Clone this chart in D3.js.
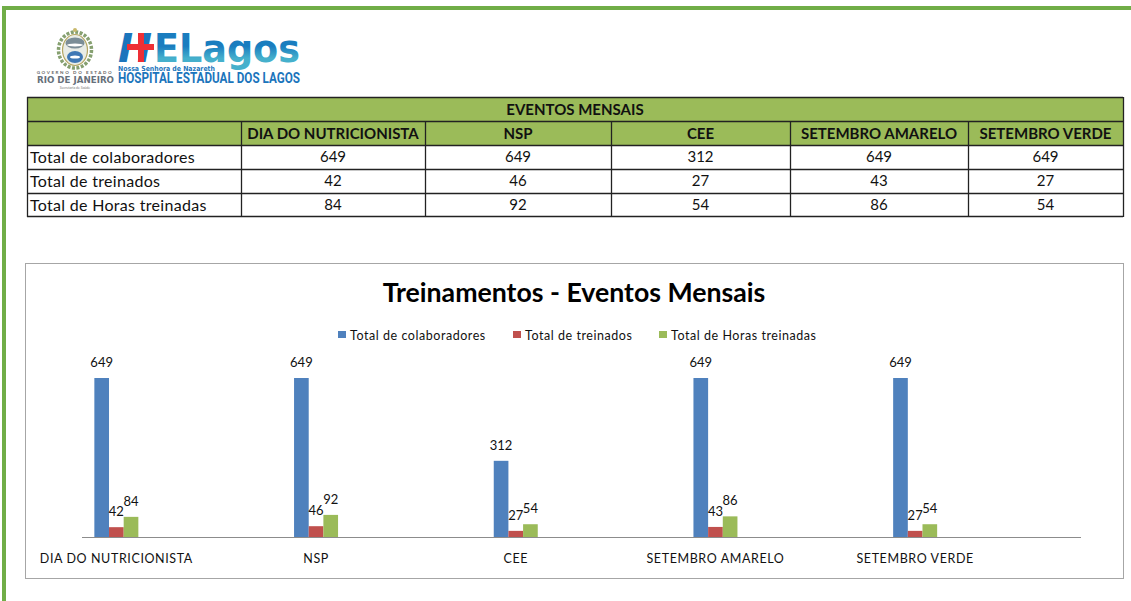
<!DOCTYPE html>
<html>
<head>
<meta charset="utf-8">
<script src="https://cdn.jsdelivr.net/npm/d3@7"></script>
<style>
  html, body { margin: 0; padding: 0; background: #fff; overflow: hidden; }
  text { font-family: Lato, "Open Sans", sans-serif; fill: #111; }
</style>
</head>
<body>
<div id="chart"></div>
<script>
/* global d3 */

// Data
const categories = ['DIA DO NUTRICIONISTA', 'NSP', 'CEE', 'SETEMBRO AMARELO', 'SETEMBRO VERDE']
const seriesNames = ['Total de colaboradores', 'Total de treinados', 'Total de Horas treinadas']
const colaboradores = [649, 649, 312, 649, 649]
const treinados = [42, 46, 27, 43, 27]
const horas = [84, 92, 54, 86, 54]
const seriesValues = [colaboradores, treinados, horas]
const seriesColors = ['#4f81bd', '#c0504d', '#9bbb59']

const width = 1131,
  height = 601

let svg = d3.select('#chart')
  .append('svg')
  .attr('width', width)
  .attr('height', height)
  .style('display', 'block')

// Gradient for the logo lettering
const grad = svg.append('defs').append('linearGradient')
  .attr('id', 'logoFill').attr('x1', 0).attr('x2', 0).attr('y1', 0).attr('y2', 1)
grad.append('stop').attr('offset', '45%').attr('stop-color', '#1a7dbf')
grad.append('stop').attr('offset', '72%').attr('stop-color', '#45b0cc')

// Page border, green
svg.append('rect').attr('x', 2).attr('y', 6).attr('width', width - 2).attr('height', 4).attr('fill', '#70ad47')
svg.append('rect').attr('x', 2).attr('y', 6).attr('width', 4).attr('height', height - 6).attr('fill', '#70ad47')

// Logo
const logo = svg.append('g')
const crest = logo.append('g').attr('transform', 'translate(75, 50)')
crest.append('ellipse').attr('rx', 16.5).attr('ry', 18).attr('fill', 'none')
  .attr('stroke', '#86a070').attr('stroke-width', 3.5).attr('stroke-dasharray', '3 1.5')
crest.append('ellipse').attr('rx', 12.5).attr('ry', 15.5).attr('fill', '#e9ece6').attr('stroke', '#b5a662').attr('stroke-width', 1.2)
crest.append('ellipse').attr('cy', -7).attr('rx', 9.5).attr('ry', 5.5).attr('fill', '#7b8d97')
crest.append('ellipse').attr('cy', -5).attr('rx', 8).attr('ry', 1.5).attr('fill', '#fff')
crest.append('ellipse').attr('cy', 7).attr('rx', 8).attr('ry', 6).attr('fill', '#3f78b5')
crest.append('ellipse').attr('cy', 7).attr('rx', 5).attr('ry', 1.6).attr('fill', '#fff')
crest.append('circle').attr('cy', -20).attr('r', 2).attr('fill', '#c9b96c')
logo.append('text').attr('x', 75).attr('y', 74).attr('text-anchor', 'middle')
  .style('font-size', '4.5px').style('font-weight', 700).style('letter-spacing', '1.6px').style('fill', '#666').text('GOVERNO DO ESTADO')
logo.append('text').attr('x', 37).attr('y', 83).attr('textLength', 77).attr('lengthAdjust', 'spacingAndGlyphs')
  .style('font-family', '"DejaVu Sans", sans-serif').style('font-size', '9px').style('font-weight', 700).style('fill', '#66707a').text('RIO DE JANEIRO')
logo.append('text').attr('x', 75).attr('y', 89).attr('text-anchor', 'middle')
  .style('font-size', '3.5px').style('fill', '#777').text('Secretaria de Saúde')
logo.append('text').attr('x', 118).attr('y', 62).attr('textLength', 34).attr('lengthAdjust', 'spacingAndGlyphs')
  .style('font-family', '"DejaVu Sans", sans-serif').style('font-size', '39px').style('font-weight', 700).style('font-style', 'italic').style('fill', '#1b75bc').text('H')
logo.append('rect').attr('x', 127).attr('y', 44).attr('width', 27).attr('height', 6).attr('fill', '#ee2f36')
logo.append('rect').attr('x', 138).attr('y', 33).attr('width', 6).attr('height', 29).attr('fill', '#ee2f36')
logo.append('text').attr('x', 154).attr('y', 62).attr('textLength', 146).attr('lengthAdjust', 'spacingAndGlyphs')
  .style('font-family', '"DejaVu Sans", sans-serif').style('font-size', '39px').style('font-weight', 700).style('fill', 'url(#logoFill)').text('ELagos')
logo.append('text').attr('x', 118).attr('y', 71).attr('textLength', 97).attr('lengthAdjust', 'spacingAndGlyphs')
  .style('font-family', '"DejaVu Sans", sans-serif').style('font-size', '7px').style('font-weight', 700).style('fill', '#1b75bc').text('Nossa Senhora de Nazareth')
logo.append('text').attr('x', 118).attr('y', 83).attr('textLength', 182).attr('lengthAdjust', 'spacingAndGlyphs')
  .style('font-family', 'Roboto, sans-serif').style('font-size', '14px').style('font-weight', 700).style('fill', '#1b75bc').text('HOSPITAL ESTADUAL DOS LAGOS')

// Table
const colEdges = [27, 241, 425, 611, 790, 968, 1123]
const rowEdges = [97, 121, 145, 169, 193, 216]
const table = svg.append('g')

table.append('rect').attr('x', colEdges[0]).attr('y', rowEdges[0])
  .attr('width', colEdges[6] - colEdges[0]).attr('height', rowEdges[2] - rowEdges[0]).attr('fill', seriesColors[2])

rowEdges.forEach(y => {
  table.append('line').attr('x1', colEdges[0]).attr('x2', colEdges[6]).attr('y1', y + 0.5).attr('y2', y + 0.5)
    .attr('stroke', '#222').attr('stroke-width', 1.3)
})
colEdges.forEach((x, i) => {
  const top = (i === 0 || i === 6) ? rowEdges[0] : rowEdges[1]
  table.append('line').attr('x1', x + 0.5).attr('x2', x + 0.5).attr('y1', top).attr('y2', rowEdges[5] + 1)
    .attr('stroke', '#222').attr('stroke-width', 1.3)
})

table.append('text').attr('x', (colEdges[0] + colEdges[6]) / 2).attr('y', 115).attr('text-anchor', 'middle')
  .style('font-size', '15px').style('font-weight', 700).text('EVENTOS MENSAIS')

categories.forEach((c, i) => {
  table.append('text').attr('x', (colEdges[i + 1] + colEdges[i + 2]) / 2).attr('y', 139).attr('text-anchor', 'middle')
    .style('font-size', '15px').style('font-weight', 700).text(c)
})
seriesNames.forEach((name, r) => {
  table.append('text').attr('x', 30).attr('y', rowEdges[r + 2] + 18)
    .style('font-size', '16px').style('letter-spacing', '0.3px').text(name)
  seriesValues[r].forEach((v, i) => {
    table.append('text').attr('x', (colEdges[i + 1] + colEdges[i + 2]) / 2).attr('y', rowEdges[r + 2] + 17)
      .attr('text-anchor', 'middle').style('font-size', '15px').text(v)
  })
})

// Chart frame
svg.append('rect').attr('x', 25.5).attr('y', 263.5).attr('width', 1098).attr('height', 315)
  .attr('fill', '#fff').attr('stroke', '#a6a6a6')

svg.append('text').attr('x', 574).attr('y', 302).attr('text-anchor', 'middle')
  .style('font-size', '26.7px').style('font-weight', 700).style('fill', '#000').text('Treinamentos - Eventos Mensais')

// Legend
const legendX = [338, 513, 659]
seriesNames.forEach((name, i) => {
  svg.append('rect').attr('x', legendX[i]).attr('y', 331).attr('width', 8).attr('height', 7).attr('fill', seriesColors[i])
  svg.append('text').attr('x', legendX[i] + 12).attr('y', 340)
    .style('font-size', '12.5px').style('letter-spacing', '0.55px').text(name)
})

// Scales
const xScale = d3.scaleBand().domain(d3.range(categories.length)).range([16.5, 1015])
const groupWidth = 44
const innerScale = d3.scaleBand().domain(d3.range(seriesNames.length)).range([0, groupWidth])
const yScale = d3.scaleLinear().domain([0, 649]).range([537.5, 378])
const groupLeft = i => xScale(i) + (xScale.bandwidth() - groupWidth) / 2

// Bars
seriesValues.forEach((values, s) => {
  const g = svg.append('g')
  g.selectAll('rect')
    .data(values)
    .enter()
    .append('rect')
    .attr('x', (d, i) => groupLeft(i) + innerScale(s))
    .attr('y', d => yScale(d))
    .attr('width', innerScale.bandwidth())
    .attr('height', d => yScale(0) - yScale(d))
    .attr('fill', seriesColors[s])
  g.selectAll('text')
    .data(values)
    .enter()
    .append('text')
    .attr('x', (d, i) => groupLeft(i) + innerScale(s) + innerScale.bandwidth() / 2)
    .attr('y', d => yScale(d) - 11)
    .attr('text-anchor', 'middle')
    .style('font-size', '13px')
    .text(d => d)
})

// Axis
const xAxis = svg.append('g')
  .attr('transform', `translate(0, ${yScale(0)})`)
  .call(d3.axisBottom(xScale).tickSize(0).tickPadding(17).tickFormat(i => categories[i]))
xAxis.select('.domain').remove()
xAxis.append('line').attr('x1', 82).attr('x2', 1081).attr('stroke', '#8c8c8c')
xAxis.selectAll('text')
  .style('font-family', 'Lato, sans-serif').style('font-size', '12.5px').style('letter-spacing', '0.6px').style('fill', '#111')
</script>
</body>
</html>
